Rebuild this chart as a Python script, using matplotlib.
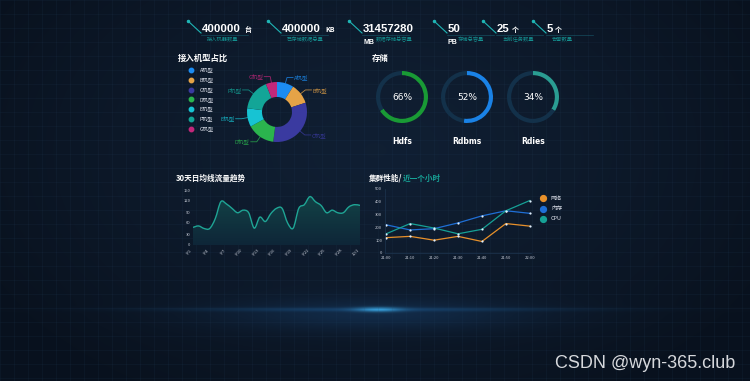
import numpy as np
import matplotlib
matplotlib.use('Agg')
import matplotlib.pyplot as plt
from matplotlib.path import Path
from matplotlib.patches import PathPatch

plt.rcParams['font.family'] = ['Noto Sans CJK SC', 'DejaVu Sans']

W, H = 750, 381

# top counters
stat_values = ['400000', '400000', '31457280', '50', '25', '5']
stat_units = ['台', 'KB', 'MB', 'PB', '个', '个']
stat_labels = ['接入机器数量', '已存储数据总量', '数据存储总容量', '存储总容量', '当前任务数量', '告警数量']

# machine type share (donut)
pie_labels = ['A机型', 'B机型', 'C机型', 'D机型', 'E机型', 'F机型', 'G机型']
pie_values = [9, 11, 32, 15, 10, 17, 6]
pie_colors = ['#1c8cf2', '#e5a347', '#3a3aa0', '#2bb44e', '#17c3d3', '#13a597', '#c2277a']

# storage gauges
store_names = ['Hdfs', 'Rdbms', 'Rdies']
store_pct = [66, 52, 34]
store_colors = ['#199a35', '#1a82e6', '#2a9d92']

# 30-day traffic trend
traffic = [48, 52, 45, 45, 72, 118, 112, 100, 88, 95, 88, 46, 76, 64, 86, 100,
           100, 60, 46, 100, 110, 132, 118, 108, 88, 95, 88, 88, 104, 110, 108]
traffic_ticks = ['9/1', '9/4', '9/7', '9/10', '9/13', '9/16', '9/19', '9/22', '9/25', '9/28', '10/1']

# cluster performance
times = ['21:00', '21:10', '21:20', '21:30', '21:40', '21:50', '22:00']
net = [120, 130, 100, 130, 90, 230, 210]
mem = [220, 180, 190, 235, 290, 330, 310]
cpu = [150, 230, 195, 150, 185, 330, 410]
perf_names = ['网络', '内存', 'CPU']
perf_colors = ['#e8902a', '#1f6fd6', '#16a196']

fig = plt.figure(figsize=(7.5, 3.81), dpi=100)


def px_axes(x, y, w, h, **kw):
    return fig.add_axes([x / W, 1 - (y + h) / H, w / W, h / H], **kw)


# ---- background ----
bg = px_axes(0, 0, W, H)
yy, xx = np.mgrid[0:H, 0:W]
d = np.sqrt(((xx - 375) / 430.0) ** 2 + ((yy - 150) / 280.0) ** 2)
base = np.array([0.063, 0.122, 0.2])
edge = np.array([0.035, 0.07, 0.12])
t = np.clip(d, 0, 1)[..., None] ** 1.3
img = base * (1 - t) + edge * t
glow = np.exp(-(((xx - 375) / 150.0) ** 2 + ((yy - 314) / 16.0) ** 2))
core = np.exp(-(((xx - 378) / 22.0) ** 2 + ((yy - 309) / 2.5) ** 2))
band = np.exp(-((yy - 309) / 2.0) ** 2) * np.exp(-((xx - 375) / 200.0) ** 2)
img = img + glow[..., None] * np.array([0.02, 0.07, 0.12]) \
    + band[..., None] * np.array([0.02, 0.09, 0.14]) \
    + core[..., None] * np.array([0.12, 0.35, 0.42])
img = np.clip(img, 0, 1)
bg.imshow(img, extent=(0, W, H, 0), aspect='auto')
for g in range(0, W, 14):
    bg.axvline(g, color='#2a4a6a', lw=0.4, alpha=0.2)
for g in range(0, H, 14):
    bg.axhline(g, color='#2a4a6a', lw=0.4, alpha=0.2)
bg.set_xlim(0, W)
bg.set_ylim(H, 0)
bg.axis('off')

fig.canvas.draw()
renderer = fig.canvas.get_renderer()

# ---- top counters ----
num_x = [202, 282, 363, 448, 497, 547]
unit_x = [244, 325, 363, 448, 512, 555]
label_dx = [5, 5, 13, 10, 5, 5]
for i in range(len(stat_values)):
    x0 = num_x[i]
    bg.plot([x0 - 14, x0 - 1], [21, 33], color='#1fb5b5', lw=0.8)
    bg.plot([x0 - 14], [21], 'o', ms=1.5, color='#1fb5b5')
    bg.plot([x0 - 1, x0 + 46], [35, 35], color='#1b6f80', lw=0.5, alpha=0.6)
    bg.text(x0, 32, stat_values[i], color='white', fontsize=8.2,
            fontweight='bold', family='Liberation Sans', va='baseline')
    if stat_units[i] in ('MB', 'PB'):
        bg.text(unit_x[i], 44, stat_units[i], color='white', fontsize=5,
                fontweight='bold', family='Liberation Sans', va='baseline')
    else:
        bg.text(unit_x[i], 32, stat_units[i], color='white', fontsize=5,
                fontweight='bold', va='baseline')
    bg.text(x0 + label_dx[i], 39, stat_labels[i], color='#148f8f', fontsize=3.8, va='center')

# ---- donut: machine share ----
bg.text(178, 58, '接入机型占比', color='white', fontsize=6, fontweight='bold', va='center')
for i, lab in enumerate(pie_labels):
    yy_ = 70 + i * 9.8
    bg.plot([191], [yy_], 'o', ms=3.2, color=pie_colors[i])
    bg.text(200, yy_, lab, color='#d8dce6', fontsize=3.8, va='center')

axp = px_axes(227, 62, 100, 100)
lim = 100 / 60.0
wedges, _ = axp.pie(pie_values, colors=pie_colors, startangle=90, counterclock=False,
                    radius=1.0, wedgeprops=dict(width=0.5, edgecolor='none'))
for w, lab, c in zip(wedges, pie_labels, pie_colors):
    ang = np.deg2rad((w.theta1 + w.theta2) / 2)
    x1, y1 = np.cos(ang), np.sin(ang)
    x2, y2 = 1.2 * x1, 1.2 * y1
    sgn = 1 if x1 >= 0 else -1
    x3 = x2 + sgn * 0.2
    axp.plot([x1, x2, x3], [y1, y2, y2], color=c, lw=0.6, alpha=0.8)
    axp.text(x3 + sgn * 0.04, y2, lab, color=c, fontsize=4, va='center',
             ha='left' if sgn > 0 else 'right', alpha=0.85)
axp.set_xlim(-lim, lim)
axp.set_ylim(-lim, lim)
axp.set_aspect('equal')
axp.axis('off')

# ---- storage gauges ----
bg.text(372, 58, '存储', color='white', fontsize=6, fontweight='bold', va='center')
centers = [402, 467, 533]
for cx, name, p, c in zip(centers, store_names, store_pct, store_colors):
    axg = px_axes(cx - 30, 97 - 30, 60, 60)
    axg.pie([p, 100 - p], colors=[c, '#13314a'], startangle=90, counterclock=False,
            radius=1.0, wedgeprops=dict(width=0.16, edgecolor='none'))
    axg.text(0, 0, f'{p}%', color='white', fontsize=6.5, ha='center', va='center',
             family='DejaVu Sans')
    axg.set_xlim(-30 / 26, 30 / 26)
    axg.set_ylim(-30 / 26, 30 / 26)
    axg.set_aspect('equal')
    axg.axis('off')
    bg.text(cx, 142, name, color='white', fontsize=5.5, fontweight='bold',
            ha='center', va='center', family='DejaVu Sans')


# ---- 30-day trend ----
def smooth_path(x, y, close_to=None):
    x = np.asarray(x, float)
    y = np.asarray(y, float)
    n = len(x)
    verts = [(x[0], y[0])]
    codes = [Path.MOVETO]
    for i in range(n - 1):
        p0 = np.array([x[max(i - 1, 0)], y[max(i - 1, 0)]])
        p1 = np.array([x[i], y[i]])
        p2 = np.array([x[i + 1], y[i + 1]])
        p3 = np.array([x[min(i + 2, n - 1)], y[min(i + 2, n - 1)]])
        c1 = p1 + (p2 - p0) / 6.0
        c2 = p2 - (p3 - p1) / 6.0
        verts += [tuple(c1), tuple(c2), tuple(p2)]
        codes += [Path.CURVE4] * 3
    if close_to is not None:
        verts += [(x[-1], close_to), (x[0], close_to), (x[0], y[0])]
        codes += [Path.LINETO, Path.LINETO, Path.CLOSEPOLY]
    return Path(verts, codes)


bg.text(176, 178, '30天日均线流量趋势', color='white', fontsize=5.5, fontweight='bold', va='center')
axt = px_axes(193, 190, 167, 55)
xs = np.arange(len(traffic))
grad = np.linspace(0.45, 0.05, 100).reshape(-1, 1)
cmap = matplotlib.colors.LinearSegmentedColormap.from_list('g', ['#0e2236', '#134a4a'])
im = axt.imshow(grad, extent=(0, len(traffic) - 1, 0, 150), aspect='auto',
                cmap=cmap, vmin=0, vmax=0.5, origin='upper', zorder=1)
area = PathPatch(smooth_path(xs, traffic, close_to=0), facecolor='none', edgecolor='none')
axt.add_patch(area)
im.set_clip_path(area)
axt.add_patch(PathPatch(smooth_path(xs, traffic), facecolor='none', edgecolor='#1fa595',
                        lw=1.0, zorder=3))
axt.set_xlim(0, len(traffic) - 1)
axt.set_ylim(0, 150)
axt.set_yticks(range(0, 151, 30))
axt.set_xticks(range(0, len(traffic), 3))
axt.set_xticklabels(traffic_ticks, rotation=45, ha='right')
axt.patch.set_alpha(0)
for s in axt.spines.values():
    s.set_visible(False)
axt.tick_params(colors='#c8cdd8', labelsize=3, length=0, pad=2)

# ---- cluster performance ----
t1 = bg.text(369, 178, '集群性能/', color='white', fontsize=5.5, fontweight='bold', va='center')
bb1 = t1.get_window_extent(renderer=renderer)
bg.text(bb1.x1 + 0.5, 178, '近一个小时', color='#17a296', fontsize=5.5, fontweight='bold', va='center')
axc = px_axes(385, 189, 146, 64)
for vals, c in zip([net, mem, cpu], perf_colors):
    axc.plot(times, vals, color=c, lw=0.9, marker='o', ms=1.6,
             markerfacecolor='#e0f0ff', markeredgewidth=0)
axc.set_ylim(0, 500)
axc.set_yticks(range(0, 501, 100))
axc.set_xlim(-0.05, len(times) - 0.95)
axc.patch.set_alpha(0)
for s in ['top', 'right']:
    axc.spines[s].set_visible(False)
axc.spines['left'].set_color('#1d3550')
axc.spines['bottom'].set_color('#1d3550')
axc.spines['left'].set_linewidth(0.5)
axc.spines['bottom'].set_linewidth(0.5)
axc.tick_params(colors='#c8cdd8', labelsize=3, length=0, pad=2)
for i, (n_, c) in enumerate(zip(perf_names, perf_colors)):
    yy_ = 198 + i * 10.5
    bg.plot([543], [yy_], 'o', ms=4.2, color=c)
    bg.text(551, yy_, n_, color='#d8dce6', fontsize=4, va='center')

# watermark
bg.text(735, 363, 'CSDN @wyn-365.club', color='#d6d8dc', fontsize=13,
        family='Liberation Sans', ha='right', va='center')

fig.savefig('out.png', dpi=100)
